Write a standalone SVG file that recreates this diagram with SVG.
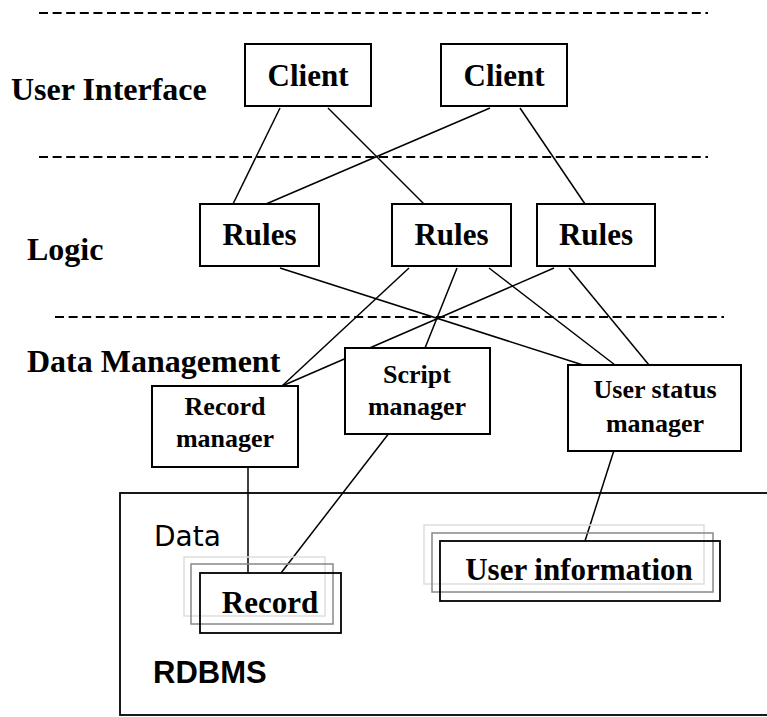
<svg xmlns="http://www.w3.org/2000/svg" width="767" height="717" viewBox="0 0 767 717">
  <style>
    .box { fill: #fff; stroke: #000; stroke-width: 2; }
    .tier { stroke: #000; stroke-width: 2; stroke-dasharray: 9 4.6; fill: none; }
    .link { stroke: #000; stroke-width: 1.5; fill: none; }
    .big { font-family: "Liberation Serif", "Times New Roman", serif; font-weight: bold; font-size: 32px; fill: #000; }
    .node { font-family: "Liberation Serif", "Times New Roman", serif; font-weight: bold; font-size: 31px; fill: #000; text-anchor: middle; }
    .small { font-family: "Liberation Serif", "Times New Roman", serif; font-weight: bold; font-size: 26px; fill: #000; text-anchor: middle; }
    .s1 { fill: none; stroke: #dedede; stroke-width: 1.5; }
    .s2 { fill: none; stroke: #888; stroke-width: 1.5; }
    .s3 { fill: none; stroke: #000; stroke-width: 1.8; }
  </style>
  <rect width="767" height="717" fill="#fff"/>

  <!-- tier separators -->
  <g id="separators">
    <line class="tier" x1="39" y1="13" x2="708" y2="13"/>
    <line class="tier" x1="39" y1="157" x2="708" y2="157"/>
    <line class="tier" x1="55" y1="317" x2="724" y2="317"/>
  </g>

  <!-- tier labels -->
  <g id="tier-labels">
    <text class="big" x="11" y="100">User Interface</text>
    <text class="big" x="27" y="260">Logic</text>
    <text class="big" x="27" y="372">Data Management</text>
  </g>

  <!-- database container -->
  <g id="rdbms">
    <rect x="120" y="493" width="660" height="222" fill="none" stroke="#000" stroke-width="1.8"/>
    <text x="154" y="546" font-family="DejaVu Sans, sans-serif" font-size="28" fill="#000">Data</text>
    <text x="153" y="683" font-family="Liberation Sans, Arial, sans-serif" font-weight="bold" font-size="31" fill="#000">RDBMS</text>
  </g>

  <!-- connectors -->
  <g id="connectors">
    <line class="link" x1="280" y1="108" x2="233" y2="204"/>
    <line class="link" x1="328" y1="108" x2="424" y2="204"/>
    <line class="link" x1="490" y1="108" x2="266" y2="204"/>
    <line class="link" x1="520" y1="108" x2="585" y2="204"/>
    <line class="link" x1="280" y1="268" x2="583" y2="365"/>
    <line class="link" x1="409" y1="268" x2="282" y2="386"/>
    <line class="link" x1="457" y1="268" x2="425" y2="348"/>
    <line class="link" x1="489" y1="268" x2="615" y2="365"/>
    <line class="link" x1="554" y1="268" x2="282" y2="386"/>
    <line class="link" x1="569" y1="268" x2="649" y2="365"/>
    <line class="link" x1="248" y1="461" x2="248" y2="573"/>
    <line class="link" x1="393" y1="428" x2="281" y2="573"/>
    <line class="link" x1="616" y1="444" x2="585" y2="541"/>
  </g>

  <!-- user interface -->
  <g id="client-1">
    <rect class="box" x="245" y="44" width="126" height="62"/>
    <text class="node" x="308" y="86">Client</text>
  </g>
  <g id="client-2">
    <rect class="box" x="441" y="44" width="126" height="62"/>
    <text class="node" x="504" y="86">Client</text>
  </g>

  <!-- logic -->
  <g id="rules-1">
    <rect class="box" x="200" y="204" width="119" height="62"/>
    <text class="node" x="259.5" y="245">Rules</text>
  </g>
  <g id="rules-2">
    <rect class="box" x="392" y="204" width="119" height="62"/>
    <text class="node" x="451.5" y="245">Rules</text>
  </g>
  <g id="rules-3">
    <rect class="box" x="537" y="204" width="118" height="62"/>
    <text class="node" x="596" y="245">Rules</text>
  </g>

  <!-- data management -->
  <g id="record-manager">
    <rect class="box" x="152" y="386" width="146" height="81"/>
    <text class="small" x="225" y="415">Record</text>
    <text class="small" x="225" y="447">manager</text>
  </g>
  <g id="script-manager">
    <rect class="box" x="345" y="348" width="145" height="86"/>
    <text class="small" x="417" y="383">Script</text>
    <text class="small" x="417" y="415">manager</text>
  </g>
  <g id="user-status-manager">
    <rect class="box" x="568" y="365" width="173" height="86"/>
    <text class="small" x="655" y="398">User status</text>
    <text class="small" x="655" y="432">manager</text>
  </g>

  <!-- data tables -->
  <g id="record">
    <rect class="s1" x="184" y="557" width="141" height="59"/>
    <rect class="s2" x="191" y="564" width="142" height="60"/>
    <rect class="s3" x="200" y="573" width="141" height="60"/>
    <text class="node" x="270" y="613">Record</text>
  </g>
  <g id="user-information">
    <rect class="s1" x="424" y="525" width="280" height="59"/>
    <rect class="s2" x="432" y="533" width="281" height="59"/>
    <rect class="s3" x="440" y="541" width="280" height="60"/>
    <text class="node" x="579" y="580" font-size="32">User information</text>
  </g>
</svg>
